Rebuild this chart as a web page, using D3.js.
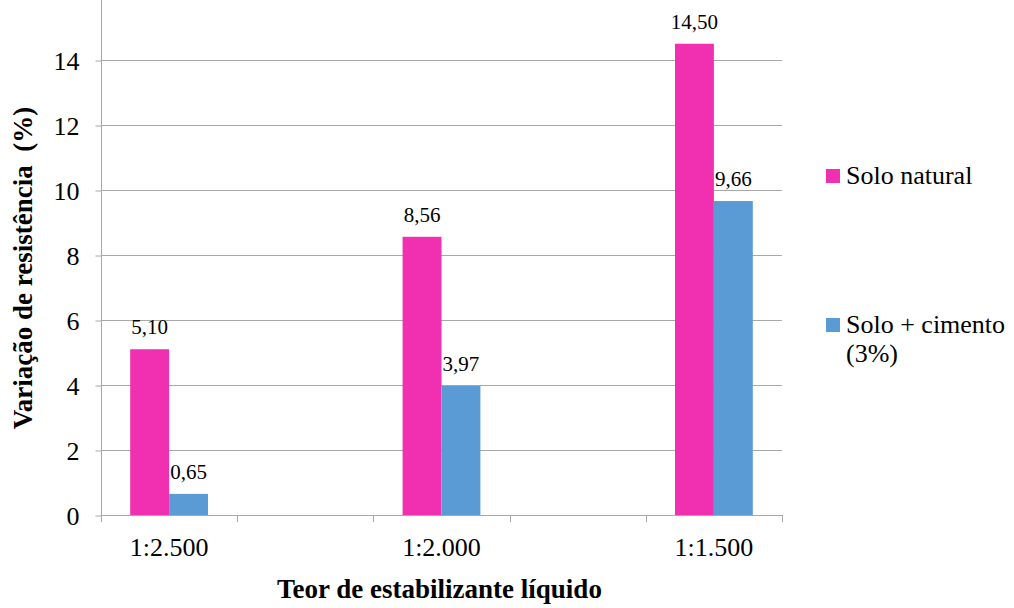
<!DOCTYPE html>
<html>
<head>
<meta charset="utf-8">
<script src="https://cdn.jsdelivr.net/npm/d3@7"></script>
<style>
  html, body { margin: 0; padding: 0; background: #fff; }
</style>
</head>
<body>
<svg id="chart" width="1014" height="608"></svg>
<script>
// Category slots along the x axis (blank slots keep the spacing between groups)
const categories = ["1:2.500", "", "1:2.000", "", "1:1.500"];
const seriesNames = ["Solo natural", "Solo + cimento (3%)"];
const soloNatural = [5.10, null, 8.56, null, 14.50];
const soloCimento = [0.65, null, 3.97, null, 9.66];
const yTicks = [0, 2, 4, 6, 8, 10, 12, 14];
const colors = ["#f130b1", "#5b9bd5"];

const FONT = '"Liberation Serif"';

const svg = d3.select("#chart");
const margin = { left: 101, right: 232, top: 15, bottom: 93 };
const W = 1014, H = 608;
const plotW = W - margin.left - margin.right;

const y = d3.scaleLinear().domain([0, 14]).range([515, 60]);
const x0 = d3.scaleBand().domain(d3.range(categories.length))
  .range([margin.left, margin.left + plotW]).paddingInner(0).paddingOuter(0);
const x1 = d3.scaleBand().domain(d3.range(seriesNames.length))
  .range([0, x0.bandwidth()]).paddingInner(0).paddingOuter(0.75);

const gridColor = "#a8a8a8";

// horizontal gridlines
svg.append("g").selectAll("line").data(yTicks.filter(v => v > 0)).join("line")
  .attr("x1", x0.range()[0]).attr("x2", x0.range()[1])
  .attr("y1", d => y(d) + 0.5).attr("y2", d => y(d) + 0.5)
  .attr("stroke", gridColor).attr("stroke-width", 1);

// y axis (line runs up to the top edge of the chart area)
const yAxis = svg.append("g").attr("transform", `translate(${margin.left + 0.5},0)`)
  .call(d3.axisLeft(y).tickValues(yTicks).tickSize(6).tickPadding(16).tickFormat(d3.format("d")));
yAxis.attr("font-family", null).attr("font-size", null);
yAxis.select(".domain").attr("stroke", gridColor).attr("d", `M0,${y(0)}V0`);
yAxis.selectAll(".tick line").attr("stroke", gridColor).attr("transform", "translate(0,0.5)");
yAxis.selectAll(".tick text").style("font-size", "26px").style("font-family", FONT)
  .attr("fill", "#000").attr("dy", "0.36em");

// bars with value labels
const series = [soloNatural, soloCimento];
series.forEach((vals, si) => {
  const g = svg.append("g");
  const data = vals.map((v, i) => ({ v, i })).filter(d => d.v !== null);
  g.selectAll("rect").data(data).join("rect")
    .attr("x", d => x0(d.i) + x1(si))
    .attr("width", x1.bandwidth())
    .attr("y", d => y(d.v))
    .attr("height", d => y(0) - y(d.v))
    .attr("fill", colors[si]);
  g.selectAll("text").data(data).join("text")
    .attr("x", d => x0(d.i) + x1(si) + x1.bandwidth() / 2)
    .attr("y", d => y(d.v) - 15)
    .attr("text-anchor", "middle")
    .style("font-size", "21px").style("font-family", FONT)
    .attr("fill", "#000")
    .text(d => d3.format(".2f")(d.v).replace(".", ","));
});

// x axis line and tick marks at slot boundaries
const xa = svg.append("g");
xa.append("line").attr("x1", x0.range()[0]).attr("x2", x0.range()[1])
  .attr("y1", y(0) + 0.5).attr("y2", y(0) + 0.5).attr("stroke", gridColor);
const bounds = d3.range(categories.length).map(i => x0(i)).concat([x0.range()[1]]);
xa.selectAll("line.tk").data(bounds).join("line").attr("class", "tk")
  .attr("x1", d => Math.round(d) + 0.5).attr("x2", d => Math.round(d) + 0.5)
  .attr("y1", y(0)).attr("y2", y(0) + 7).attr("stroke", gridColor);
xa.selectAll("text").data(categories.map((c, i) => ({ c, i })).filter(d => d.c)).join("text")
  .attr("x", d => x0(d.i) + x0.bandwidth() / 2)
  .attr("y", 556)
  .attr("text-anchor", "middle")
  .style("font-size", "26px").style("font-family", FONT)
  .text(d => d.c);

// axis titles
svg.append("text")
  .attr("x", x0(0) + plotW / 2 - 2).attr("y", 598)
  .attr("text-anchor", "middle")
  .style("font-size", "27px").style("font-family", FONT).style("font-weight", "bold")
  .text("Teor de estabilizante líquido");
svg.append("text")
  .attr("transform", "translate(32,268) rotate(-90)")
  .attr("text-anchor", "middle")
  .style("font-size", "27px").style("font-family", FONT).style("font-weight", "bold")
  .text("Variação de resistência \u00A0(%)");

// legend
const legend = svg.append("g");
const legendRows = [
  { lines: ["Solo natural"], y: 184, color: colors[0] },
  { lines: ["Solo + cimento", "(3%)"], y: 333, color: colors[1] }
];
legendRows.forEach(r => {
  legend.append("rect").attr("x", 826).attr("y", r.y - 15).attr("width", 14).attr("height", 14)
    .attr("fill", r.color);
  const t = legend.append("text").attr("x", 846).attr("y", r.y)
    .style("font-size", "26px").style("font-family", FONT);
  r.lines.forEach((ln, k) => {
    t.append("tspan").attr("x", 846).attr("dy", k === 0 ? 0 : 29).text(ln);
  });
});
</script>
</body>
</html>
